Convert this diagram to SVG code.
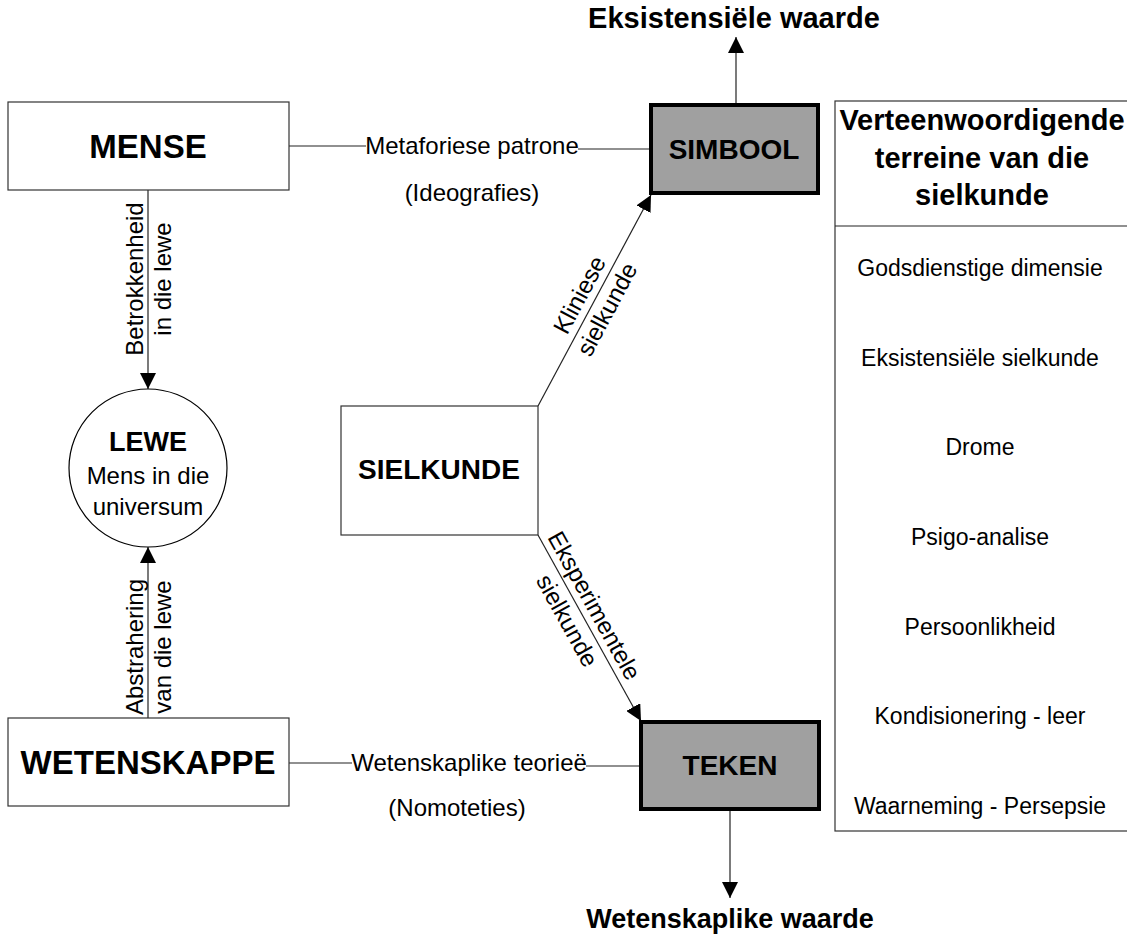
<svg xmlns="http://www.w3.org/2000/svg" width="1127" height="944" viewBox="0 0 1127 944">
<defs>
<marker id="arr" markerWidth="16" markerHeight="16" refX="16" refY="8" orient="auto" markerUnits="userSpaceOnUse" viewBox="0 0 16 16">
<path d="M0,0 L16,8 L0,16 Z" fill="#000"/>
</marker>
<style>
text{font-family:"Liberation Sans",Arial,sans-serif;fill:#000}
.b{font-weight:bold}
.box{fill:#fff;stroke:#333;stroke-width:1.2}
.gbox{fill:#a0a0a0;stroke:#000;stroke-width:4}
.ln{stroke:#222;stroke-width:1.2;fill:none}
.r{font-size:24px}
.t{font-size:23px}
</style>
</defs>
<rect width="1127" height="944" fill="#fff"/>

<g id="connectors">
<line class="ln" x1="289" y1="146" x2="366" y2="146"/>
<line class="ln" x1="578" y1="149" x2="650" y2="149"/>
<line class="ln" x1="289" y1="763" x2="352" y2="763"/>
<line class="ln" x1="586" y1="766" x2="640" y2="766"/>
<line class="ln" x1="148" y1="190" x2="148" y2="389" marker-end="url(#arr)"/>
<line class="ln" x1="148" y1="718" x2="148" y2="547" marker-end="url(#arr)"/>
<line class="ln" x1="538" y1="406" x2="651" y2="195" marker-end="url(#arr)"/>
<line class="ln" x1="538" y1="535" x2="641" y2="721" marker-end="url(#arr)"/>
<line class="ln" x1="736" y1="103" x2="736" y2="37" marker-end="url(#arr)"/>
<line class="ln" x1="730" y1="810" x2="730" y2="898" marker-end="url(#arr)"/>

<text class="r" x="472" y="154" text-anchor="middle">Metaforiese patrone</text>
<text class="r" x="472" y="201" text-anchor="middle">(Ideografies)</text>
<text class="r" x="469" y="771" text-anchor="middle">Wetenskaplike teorieë</text>
<text class="r" x="457" y="816" text-anchor="middle">(Nomoteties)</text>

<g transform="translate(148,279) rotate(-90)">
<text class="r" x="0" y="-5" text-anchor="middle">Betrokkenheid</text>
<text class="r" x="0" y="23" text-anchor="middle">in die lewe</text>
</g>
<g transform="translate(148,647) rotate(-90)">
<text class="r" x="0" y="-5" text-anchor="middle">Abstrahering</text>
<text class="r" x="0" y="23" text-anchor="middle">van die lewe</text>
</g>
<g transform="translate(593,302) rotate(-62)">
<text class="r" x="0" y="-7" text-anchor="middle">Kliniese</text>
<text class="r" x="0" y="24" text-anchor="middle">sielkunde</text>
</g>
<g transform="translate(581,613) rotate(61)">
<text class="r" x="0" y="-7" text-anchor="middle">Eksperimentele</text>
<text class="r" x="0" y="24" text-anchor="middle">sielkunde</text>
</g>
<text class="b" x="734" y="28" text-anchor="middle" font-size="29">Eksistensiële waarde</text>
<text class="b" x="730" y="928" text-anchor="middle" font-size="27">Wetenskaplike waarde</text>
</g>

<g id="mense">
<rect class="box" x="8" y="102" width="281" height="88"/>
<text class="b" x="148" y="158" text-anchor="middle" font-size="33">MENSE</text>
</g>
<g id="lewe">
<circle cx="148" cy="468" r="79" fill="#fff" stroke="#000" stroke-width="1.2"/>
<text class="b" x="148" y="451" text-anchor="middle" font-size="27">LEWE</text>
<text class="r" x="148" y="484" text-anchor="middle">Mens in die</text>
<text class="r" x="148" y="515" text-anchor="middle">universum</text>
</g>
<g id="wetenskappe">
<rect class="box" x="8" y="718" width="281" height="88"/>
<text class="b" x="148" y="774" text-anchor="middle" font-size="33">WETENSKAPPE</text>
</g>
<g id="sielkunde">
<rect class="box" x="341" y="406" width="197" height="129"/>
<text class="b" x="439" y="479" text-anchor="middle" font-size="28">SIELKUNDE</text>
</g>
<g id="simbool">
<rect class="gbox" x="651" y="105" width="167" height="88"/>
<text class="b" x="734" y="159" text-anchor="middle" font-size="28">SIMBOOL</text>
</g>
<g id="teken">
<rect class="gbox" x="641" y="722" width="178" height="87"/>
<text class="b" x="730" y="775" text-anchor="middle" font-size="28">TEKEN</text>
</g>
<g id="terreine">
<rect class="box" x="835" y="101" width="300" height="730"/>
<line class="ln" x1="835" y1="226" x2="1127" y2="226"/>
<text class="b" x="982" y="130" text-anchor="middle" font-size="29">Verteenwoordigende</text>
<text class="b" x="982" y="168" text-anchor="middle" font-size="29">terreine van die</text>
<text class="b" x="982" y="205" text-anchor="middle" font-size="29">sielkunde</text>
<text class="t" x="980" y="276" text-anchor="middle">Godsdienstige dimensie</text>
<text class="t" x="980" y="366" text-anchor="middle">Eksistensiële sielkunde</text>
<text class="t" x="980" y="455" text-anchor="middle">Drome</text>
<text class="t" x="980" y="545" text-anchor="middle">Psigo-analise</text>
<text class="t" x="980" y="635" text-anchor="middle">Persoonlikheid</text>
<text class="t" x="980" y="724" text-anchor="middle">Kondisionering - leer</text>
<text class="t" x="980" y="814" text-anchor="middle">Waarneming - Persepsie</text>
</g>
</svg>
